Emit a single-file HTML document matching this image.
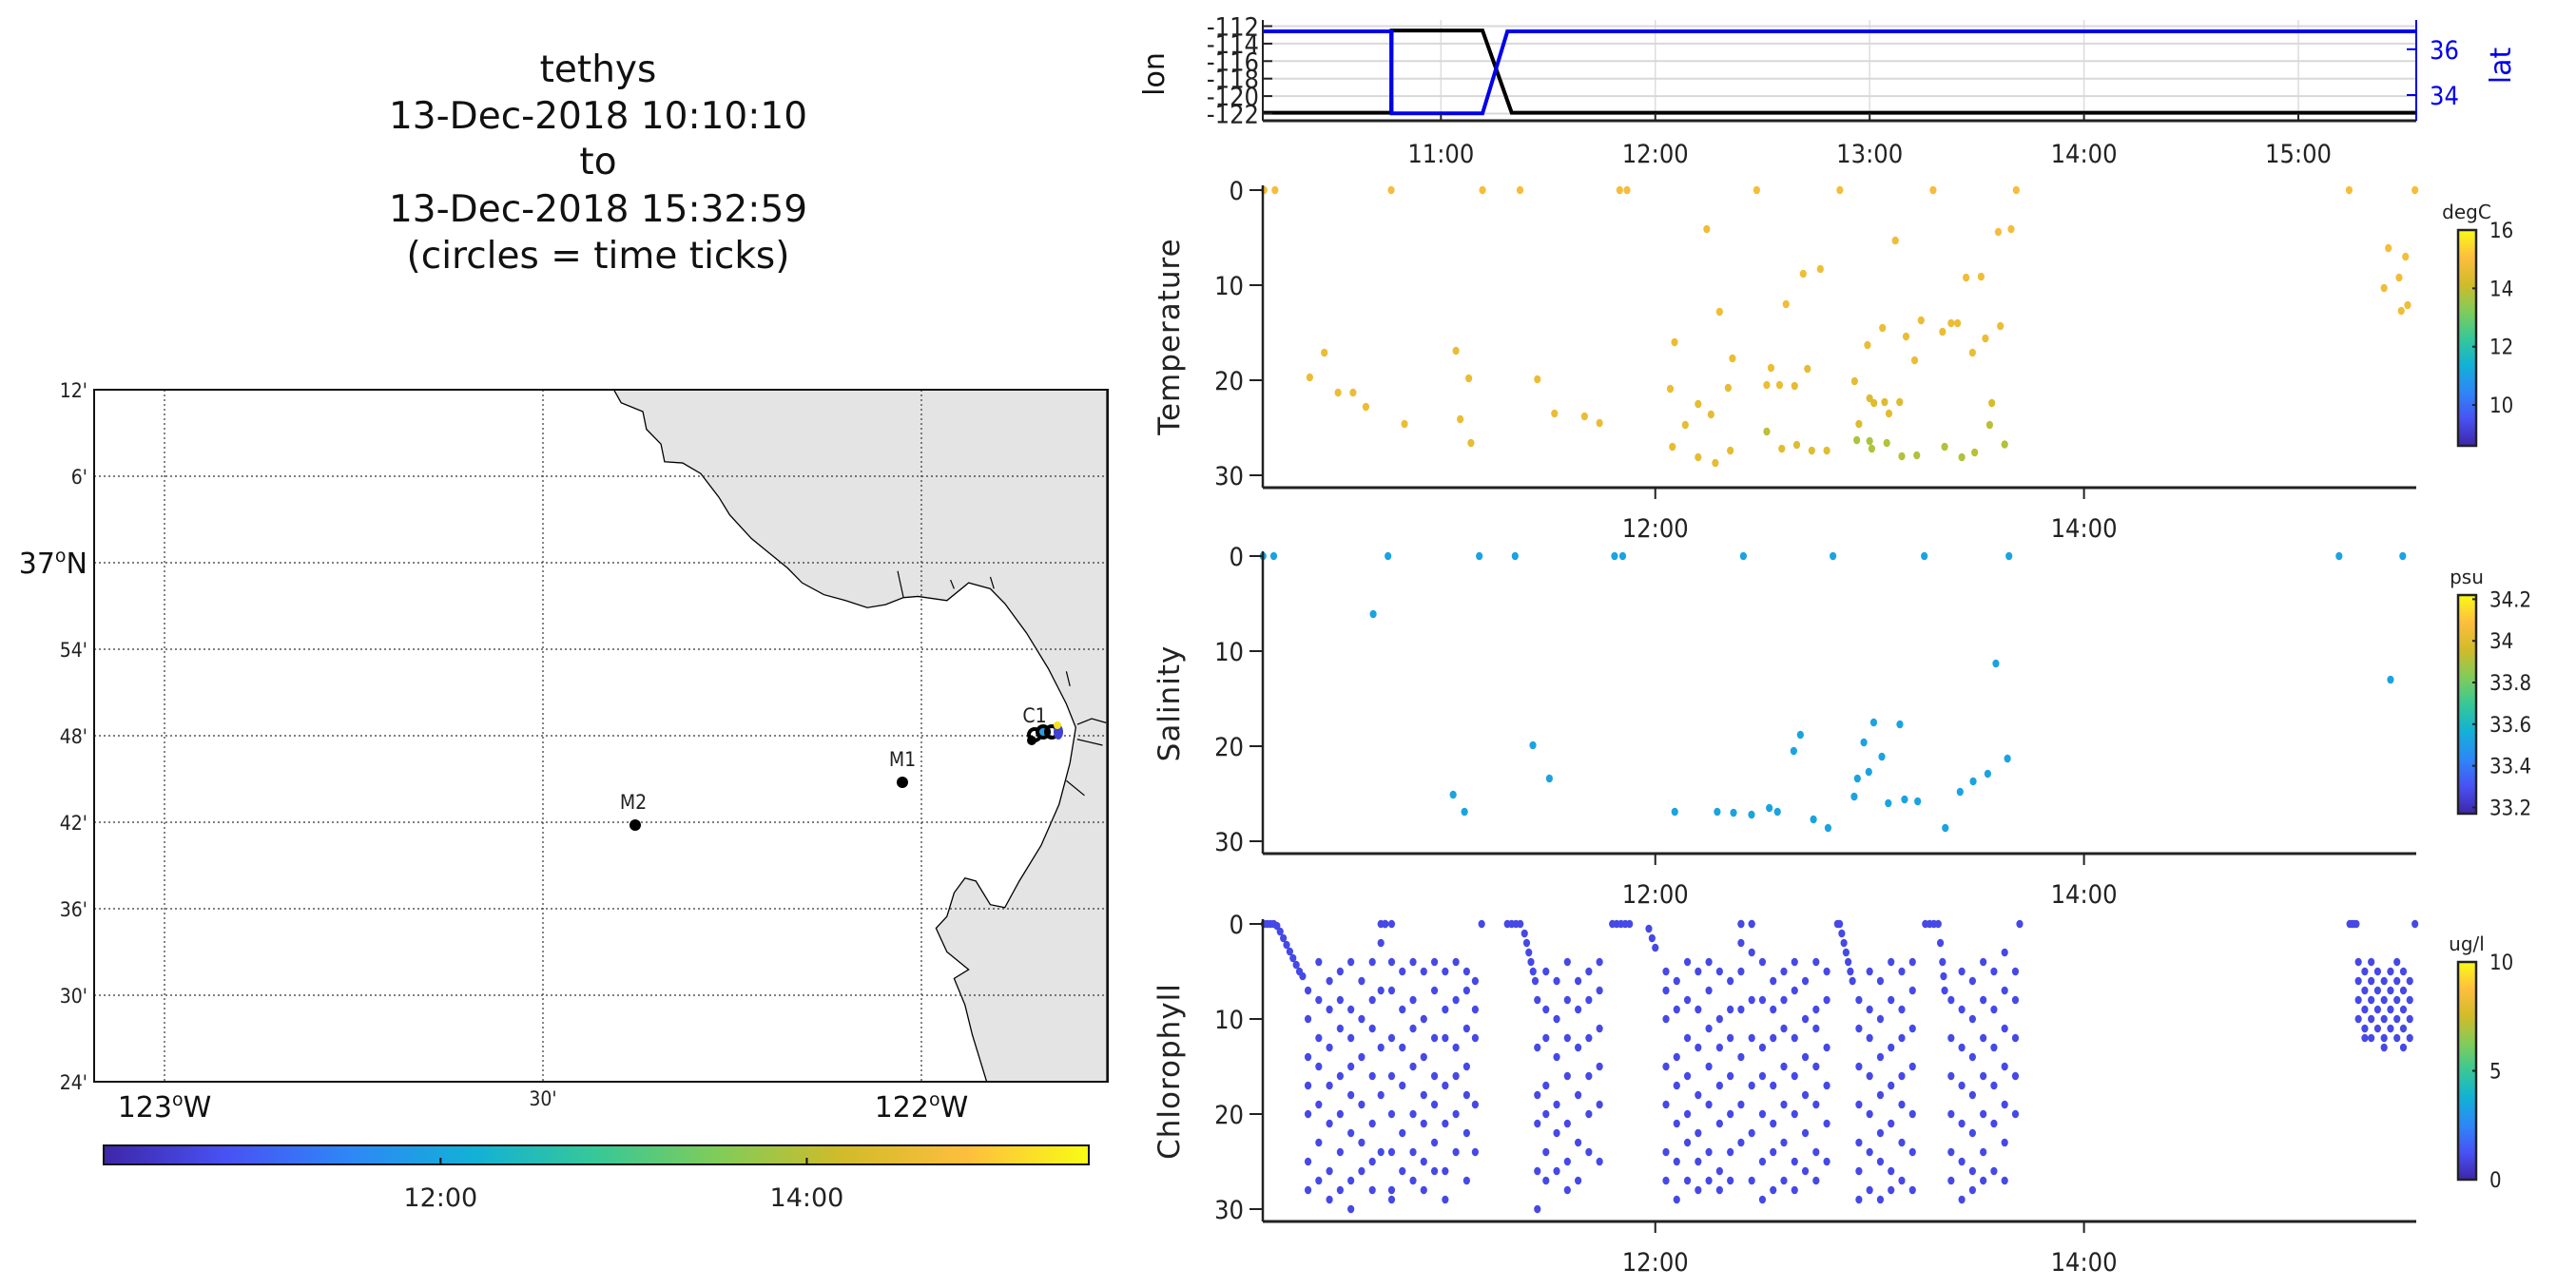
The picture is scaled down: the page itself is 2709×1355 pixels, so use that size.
<!DOCTYPE html>
<html><head><meta charset="utf-8">
<style>
html,body{margin:0;padding:0;background:#fff;}
svg{display:block;}
text{font-family:"DejaVu Sans","Liberation Sans",sans-serif;}
.tk{font-family:"DejaVu Sans Condensed","DejaVu Sans","Liberation Sans Narrow",sans-serif;font-stretch:condensed;font-size:27px;fill:#222;}
.mp{font-family:"DejaVu Sans Condensed","DejaVu Sans",sans-serif;font-stretch:condensed;font-size:21px;fill:#222;}
</style></head>
<body>
<svg id="fig" xmlns="http://www.w3.org/2000/svg" width="2709" height="1355" viewBox="0 0 2709 1355">
<defs>
<linearGradient id="parH" x1="0" x2="1" y1="0" y2="0"></linearGradient>
<linearGradient id="parV" x1="0" x2="0" y1="1" y2="0"></linearGradient>
</defs>
<g font-size="39" text-anchor="middle" fill="#111">
<text x="629" y="86">tethys</text>
<text x="629" y="135">13-Dec-2018 10:10:10</text>
<text x="629" y="183">to</text>
<text x="629" y="233">13-Dec-2018 15:32:59</text>
<text x="629" y="282">(circles = time ticks)</text>
</g>

<!-- MAP -->
<g>
<rect x="99" y="410" width="1066" height="728" fill="#fff"/>
<g transform="translate(6.1,380.2) scale(0.7613,0.6212)">
<path fill="#e4e4e4" stroke="#000" stroke-width="1.3" vector-effect="non-scaling-stroke"
d="M840,48 L850,70 L880,85 L885,115 L905,140 L910,170 L935,172 L960,190 L985,230 L1000,260 L1030,300 L1050,320 L1080,350 L1100,375 L1130,395 L1160,405 L1190,417 L1215,412 L1240,400 L1260,398 L1300,405 L1330,375 L1360,385 L1380,410 L1410,460 L1440,520 L1465,580 L1478,620 L1470,680 L1455,750 L1430,820 L1400,880 L1380,925 L1360,920 L1340,880 L1325,875 L1310,900 L1300,940 L1285,960 L1300,1000 L1330,1030 L1310,1045 L1325,1090 L1335,1140 L1345,1180 L1355,1220 L1521,1220 L1521,48 Z"/>
<path fill="none" stroke="#000" stroke-width="1.2" vector-effect="non-scaling-stroke" d="M1232,355 L1240,400 M1305,370 L1310,385 M1360,365 L1365,385 M1465,525 L1470,550 M1480,615 L1500,605 L1520,612 M1480,640 L1515,650 M1465,710 L1490,735"/>
</g>
<g id="mapgrid" stroke="#333" stroke-width="1.2" stroke-dasharray="2,3"></g>
<rect x="99" y="410" width="1066" height="728" fill="none" stroke="#111" stroke-width="2"/>
<g id="maplabels"></g>
<g><circle cx="668" cy="868" r="6" fill="#000"/><text class="mp" x="666" y="851" text-anchor="middle">M2</text></g>
<g><circle cx="949" cy="823" r="6" fill="#000"/><text class="mp" x="949" y="806" text-anchor="middle">M1</text></g>
<g>
<text class="mp" x="1088" y="760" text-anchor="middle">C1</text>
<circle cx="1088" cy="773" r="6" fill="none" stroke="#000" stroke-width="4"/>
<circle cx="1097" cy="770" r="6" fill="#2a9be0" stroke="#000" stroke-width="4"/>
<circle cx="1106" cy="770" r="6" fill="none" stroke="#000" stroke-width="4"/>
<circle cx="1085" cy="779" r="5" fill="#000"/>
<ellipse cx="1113" cy="770" rx="5" ry="8" fill="#4040d8"/>
<circle cx="1112" cy="763" r="4" fill="#f3e320"/>
</g>
</g>

<!-- time colorbar -->
<g>
<rect x="109" y="1205" width="1036" height="20" fill="url(#parH)" stroke="#111" stroke-width="2"/>
<g id="timecbticks"></g>
</g>

<!-- right panels -->
<g id="lonlat"></g>
<g id="temp"></g>
<g id="sal"></g>
<g id="chl"></g>
</svg>

<script>
// ---------- data ----------
const lonTimes = [10.169, 10.768, 10.770, 11.194, 11.330, 15.55];
const lonValues = [-121.9, -121.9, -112.5, -112.5, -121.9, -121.9];
const latTimes = [10.169, 10.768, 10.770, 11.194, 11.310, 15.55];
const latValues = [36.78, 36.78, 33.2, 33.2, 36.78, 36.78];
const hourTicks = [11, 12, 13, 14, 15];
const hourLabels = ["11:00", "12:00", "13:00", "14:00", "15:00"];
const lonTicks = [-112, -114, -116, -118, -120, -122];
const latTicks = [36, 34];
const depthTicks = [0, 10, 20, 30];
const panelTimeTicks = [12, 14];
const panelTimeLabels = ["12:00", "14:00"];

const tempTimes = [10.175,10.226,10.768,11.194,11.369,11.834,11.868,12.473,12.861,13.296,13.684,15.237,15.544,
10.388,10.456,10.52,10.59,10.65,10.83,11.07,11.09,11.13,11.14,11.45,11.53,11.67,11.74,12.07,12.08,12.09,12.14,12.2,12.2,12.24,12.26,12.28,12.3,12.34,12.35,12.36,12.52,12.52,12.54,12.58,12.59,12.61,12.65,12.66,12.69,12.71,12.73,12.77,12.8,12.93,12.95,12.94,12.99,13.0,13.0,13.01,13.02,13.06,13.07,13.08,13.09,13.12,13.14,13.15,13.17,13.21,13.22,13.24,13.34,13.35,13.38,13.41,13.43,13.45,13.48,13.49,13.52,13.54,13.56,13.57,13.6,13.61,13.63,13.66,15.4,15.42,15.47,15.48,15.5,15.51];
const tempDepths = [0,0,0,0,0,0,0,0,0,0,0,0,0,
19.7,17.1,21.3,21.3,22.8,24.6,16.9,24.1,19.8,26.6,19.9,23.5,23.8,24.5,20.9,27.0,16.0,24.7,22.5,28.1,4.1,23.6,28.7,12.8,20.8,27.4,17.7,20.5,25.4,18.7,20.5,27.2,12.0,20.6,26.8,8.8,18.8,27.4,8.3,27.4,20.1,24.6,26.3,16.3,26.4,21.9,27.2,22.4,14.5,22.3,26.6,23.5,5.3,22.3,28.0,15.4,17.9,27.9,13.7,14.9,27.0,14.0,14.0,28.1,9.2,17.1,27.6,9.1,15.6,24.7,22.4,4.4,14.3,26.75,4.1,10.3,6.1,9.2,12.7,7.0,12.1];
const tempValues = [14.9,14.9,14.9,14.9,14.9,14.9,14.9,14.9,14.9,14.9,14.9,14.9,14.9,
14.7,14.7,14.7,14.7,14.7,14.7,14.7,14.7,14.7,14.6,14.7,14.7,14.7,14.7,14.7,14.6,14.7,14.6,14.6,14.6,14.8,14.6,14.6,14.8,14.6,14.6,14.7,14.7,13.9,14.7,14.7,14.5,14.8,14.6,14.4,14.8,14.6,14.5,14.8,14.5,14.6,14.4,13.7,14.7,13.7,14.4,13.8,14.4,14.7,14.4,13.8,14.5,14.8,14.4,13.8,14.7,14.7,13.8,14.7,14.7,13.8,14.7,14.7,13.8,14.8,14.7,13.9,14.8,14.7,13.9,14.3,14.9,14.7,13.8,14.9,14.8,14.9,14.8,14.8,14.9,14.8];

const salTimes = [10.17,10.22,10.753,11.179,11.346,11.81,11.848,12.411,12.829,13.255,13.65,15.19,15.487,
10.684,11.057,11.11,11.429,11.506,12.091,12.289,12.365,12.449,12.532,12.57,12.646,12.677,12.738,12.806,12.928,12.943,12.973,12.996,13.019,13.057,13.087,13.141,13.163,13.224,13.353,13.422,13.483,13.551,13.589,13.643,15.43];
const salDepths = [0,0,0,0,0,0,0,0,0,0,0,0,0,
6.1,25.1,26.9,19.9,23.4,26.9,26.9,27.0,27.2,26.5,26.9,20.5,18.8,27.7,28.6,25.3,23.4,19.6,22.7,17.5,21.1,26.0,17.7,25.6,25.8,28.6,24.8,23.7,22.9,11.3,21.3,13.0];
const salValue = 33.52;

const chlTimes = [10.175,10.19,10.205,10.22,10.235,10.25,10.265,10.28,10.295,10.31,10.325,10.34,10.355,
10.38,10.43,10.48,10.53,10.58,10.63,10.68,10.72,10.74,10.77,10.82,10.87,10.92,10.97,11.02,11.07,11.12,11.16,11.19,
11.31,11.33,11.35,11.37,11.39,11.40,11.41,11.42,11.43,11.44,
11.45,11.49,11.54,11.59,11.64,11.69,11.74,
11.80,11.82,11.84,11.86,11.88,11.97,11.985,12.0,
12.05,12.10,12.15,12.20,12.25,12.30,12.35,12.40,12.45,12.50,12.55,12.60,12.65,12.70,12.75,12.80,
12.85,12.86,12.87,12.88,12.89,12.90,12.91,12.92,
12.95,13.00,13.05,13.10,13.15,13.20,
13.26,13.28,13.30,13.32,13.33,13.34,13.345,13.35,
13.38,13.43,13.48,13.53,13.58,13.63,13.68,13.70,
15.24,15.25,15.26,15.27,15.544,
15.28,15.31,15.34,15.37,15.40,15.43,15.46,15.49,15.52];
const chlDepths = [[0],[0],[0],[0],[0.2],[0.8],[1.5],[2.2],[2.9],[3.6],[4.3],[5],[5.5],
[7,10,14,17,20,25,28],[4,8,12,15,19,23,27],[6,9,13,17,21,26,29],[5,8,11,16,20,24,28],[4,9,12,15,18,22,27,30],[6,10,14,19,23,26],[4,8,11,16,21,25,28],[0,2,7,13,18,24],[0,0],[0,4,7,12,16,20,24,28,29],[5,9,13,17,22,26],[4,8,11,15,20,24,27],[5,10,14,18,21,25,28],[4,7,12,16,19,23,26],[5,9,12,17,21,26,29],[4,8,13,16,20,24],[5,7,11,15,18,22,27],[6,9,12,19,24],[0],
[0],[0],[0],[0],[1],[2],[3],[4],[5],[6],
[8,13,18,21,26,30],[5,9,12,17,20,24,27],[6,10,14,19,22,26],[4,8,12,16,21,25,28],[6,9,13,18,23,27],[5,8,12,16,20,24],[4,7,11,15,19,25],
[0],[0],[0],[0],[0],[0.5],[1.5],[2.5],
[5,7,10,15,19,24,27],[6,9,14,17,21,25,29],[4,8,12,16,20,23,27],[5,9,13,18,22,25,28],[4,7,11,15,19,24,27],[5,10,13,17,21,26,28],[6,9,12,16,20,24,27],[0,0,2,5,9,14,19,23],[0,0,3,8,12,17,22,27],[4,8,13,16,20,25,29],[6,9,12,17,21,24,28],[5,8,11,15,19,23,27],[4,7,12,16,20,25,28],[6,10,14,18,22,26],[4,9,11,15,19,24,27],[5,8,13,17,21,25],
[0],[0],[1],[2],[3],[4],[5],[6],
[8,11,15,19,23,26,29],[5,9,12,16,20,24,28],[6,10,14,18,22,25,29],[4,8,13,17,21,26,28],[5,9,12,16,19,23,27],[4,7,11,15,20,24,28],
[0],[0],[0],[0],[2],[4],[5.5],[7],
[8,12,16,20,24,27],[5,9,13,17,21,25,29],[6,10,14,18,22,26,28],[4,8,12,16,20,24,27],[5,9,13,17,21,26],[3,7,11,15,19,23,27],[5,8,12,16,20],[0],
[0],[0],[0],[0],[0],
[4,6,8,10],[5,7,9,11,12],[4,6,8,10,12],[5,7,9,11],[6,8,10,12,13],[5,7,9,11],[4,6,8,10,12],[5,7,9,11,13],[6,8,10,12]];
const chlValue = 1.0;

const tempCbTicks = [16, 14, 12, 10];
const salCbTicks = [34.2, 34, 33.8, 33.6, 33.4, 33.2];
const salCbLabels = ["34.2", "34", "33.8", "33.6", "33.4", "33.2"];
const chlCbTicks = [10, 5, 0];
const mapLatTicks = [37.2, 37.1, 37.0, 36.9, 36.8, 36.7, 36.6, 36.5, 36.4];
const mapLatLabels = ["12'", "6'", "37N", "54'", "48'", "42'", "36'", "30'", "24'"];
const mapLonTicks = [-123, -122.5, -122];

// ---------- helpers ----------
const NS = "http://www.w3.org/2000/svg";
function el(tag, attrs, parent, txt) {
  const e = document.createElementNS(NS, tag);
  for (const k in attrs) e.setAttribute(k, attrs[k]);
  if (txt !== undefined) e.textContent = txt;
  parent.appendChild(e);
  return e;
}
const PAR = [[0,[62,38,168]],[0.125,[72,82,244]],[0.25,[46,135,247]],[0.375,[18,177,214]],[0.5,[55,200,151]],[0.625,[129,204,89]],[0.75,[209,187,41]],[0.875,[253,190,62]],[1,[249,251,21]]];
function parula(t) {
  t = Math.max(0, Math.min(1, t));
  for (let i = 1; i < PAR.length; i++) {
    if (t <= PAR[i][0]) {
      const a = PAR[i-1], b = PAR[i], f = (t - a[0]) / (b[0] - a[0]);
      const c = a[1].map((v, j) => Math.round(v + (b[1][j] - v) * f));
      return `rgb(${c[0]},${c[1]},${c[2]})`;
    }
  }
  return "rgb(249,251,21)";
}
["parH", "parV"].forEach(id => {
  const g = document.getElementById(id);
  PAR.forEach(p => el("stop", {offset: p[0], "stop-color": `rgb(${p[1].join(",")})`}, g));
});

// time axis
const T0 = 10.169, T1 = 15.55, X0 = 1328, X1 = 2541;
const xT = t => X0 + (t - T0) / (T1 - T0) * (X1 - X0);

// ---------- map grid & labels ----------
const mx = lon => 173 + (lon + 123) * 796;
const my = lat => 410 + (37.2 - lat) * 910;
const mg = document.getElementById("mapgrid");
mapLonTicks.forEach(l => el("line", {x1: mx(l), x2: mx(l), y1: 410, y2: 1138}, mg));
mapLatTicks.forEach(l => el("line", {x1: 99, x2: 1165, y1: my(l), y2: my(l)}, mg));
const ml = document.getElementById("maplabels");
mapLatTicks.forEach((l, i) => {
  const lab = mapLatLabels[i];
  if (lab === "37N") {
    const t = el("text", {x: 92, y: my(l) + 11, "text-anchor": "end", "font-size": 30, fill: "#111"}, ml);
    
    
    t.innerHTML = '37<tspan dy="-12" font-size="19">o</tspan><tspan dy="12">N</tspan>';
  } else {
    const t = el("text", {x: 92, y: my(l) + 8, "text-anchor": "end", class: "mp"}, ml, lab);
    
    
  }
});
[["123", -123], ["122", -122]].forEach(p => {
  const t = el("text", {x: mx(p[1]), y: 1175, "text-anchor": "middle", "font-size": 30, fill: "#111"}, ml);
  
  
  t.innerHTML = p[0] + '<tspan dy="-12" font-size="19">o</tspan><tspan dy="12">W</tspan>';
});
{
  const t = el("text", {x: mx(-122.5), y: 1163, "text-anchor": "middle", class: "mp"}, ml, "30'");
  
  
}

// time colorbar ticks
{
  const g = document.getElementById("timecbticks");
  const cx = t => 109 + (t - 10.16) / (15.54 - 10.16) * 1036;
  panelTimeTicks.forEach((t, i) => {
    el("line", {x1: cx(t), x2: cx(t), y1: 1218, y2: 1225, stroke: "#111", "stroke-width": 2}, g);
    const lab = el("text", {x: cx(t), y: 1269, "text-anchor": "middle", "font-size": 27, fill: "#222"}, g, panelTimeLabels[i]);
    
    
  });
}

// ---------- lon/lat panel ----------
{
  const g = document.getElementById("lonlat");
  const Y0 = 21, YB = 127;
  const yLon = v => 27.5 + (-112 - v) * 9.2;
  const yLat = v => 51.8 + (36 - v) * 24.1;
  hourTicks.forEach(h => el("line", {x1: xT(h), x2: xT(h), y1: Y0, y2: YB, stroke: "#ddd", "stroke-width": 1.5}, g));
  lonTicks.forEach(v => el("line", {x1: X0, x2: X1, y1: yLon(v), y2: yLon(v), stroke: "#d8d8d8", "stroke-width": 2}, g));
  let d = lonTimes.map((t, i) => (i ? "L" : "M") + xT(t) + "," + yLon(lonValues[i])).join(" ");
  const pl = el("path", {d: d, fill: "none", stroke: "#000", "stroke-width": 4}, g);
  
  
  d = latTimes.map((t, i) => (i ? "L" : "M") + xT(t) + "," + yLat(latValues[i])).join(" ");
  const pb = el("path", {d: d, fill: "none", stroke: "#0000ee", "stroke-width": 4}, g);
  
  
  el("line", {x1: X0, x2: X1, y1: YB, y2: YB, stroke: "#222", "stroke-width": 3}, g);
  el("line", {x1: X0, x2: X0, y1: Y0, y2: YB, stroke: "#222", "stroke-width": 2}, g);
  el("line", {x1: X1, x2: X1, y1: Y0, y2: YB, stroke: "#0000ee", "stroke-width": 2}, g);
  lonTicks.forEach(v => {
    el("line", {x1: X0, x2: X0 + 10, y1: yLon(v), y2: yLon(v), stroke: "#222", "stroke-width": 2}, g);
    const t = el("text", {x: X0 - 4, y: yLon(v) + 10, "text-anchor": "end", class: "tk", fill: "#111"}, g, String(v).replace("-", "-"));
    
    
  });
  latTicks.forEach(v => {
    el("line", {x1: X1 - 10, x2: X1, y1: yLat(v), y2: yLat(v), stroke: "#0000ee", "stroke-width": 2}, g);
    const t = el("text", {x: X1 + 14, y: yLat(v) + 10, class: "tk", style: "fill:#0000ee"}, g, String(v));
    
    
  });
  hourTicks.forEach((h, i) => {
    el("line", {x1: xT(h), x2: xT(h), y1: YB - 8, y2: YB, stroke: "#222", "stroke-width": 2}, g);
    const t = el("text", {x: xT(h), y: 171, "text-anchor": "middle", class: "tk"}, g, hourLabels[i]);
    
    
  });
  const a = el("text", {x: 1224, y: 78, "text-anchor": "middle", "font-size": 30, fill: "#111", transform: "rotate(-90 1224 78)"}, g, "lon");
  
  
  const b = el("text", {x: 2640, y: 69, "text-anchor": "middle", "font-size": 30, fill: "#0000ee", transform: "rotate(-90 2640 69)"}, g, "lat");
  
  
}

// ---------- depth panels ----------
function depthPanel(id, y0, title, titleY, cb, pts) {
  const g = document.getElementById(id);
  const yD = d => y0 + d * 10;
  const YB = y0 + 313;
  pts.forEach(p => {
    const c = el("ellipse", {cx: xT(p[0]), cy: yD(p[1]), rx: 3.6, ry: 4.3, fill: p[2]}, g);
    
    
  });
  el("line", {x1: X0, x2: X1, y1: YB, y2: YB, stroke: "#222", "stroke-width": 3}, g);
  el("line", {x1: X0, x2: X0, y1: y0 - 5, y2: YB, stroke: "#222", "stroke-width": 2.5}, g);
  depthTicks.forEach(d => {
    el("line", {x1: X0 - 14, x2: X0, y1: yD(d), y2: yD(d), stroke: "#222", "stroke-width": 2}, g);
    const t = el("text", {x: X0 - 20, y: yD(d) + 10, "text-anchor": "end", class: "tk"}, g, String(d));
    
    
  });
  panelTimeTicks.forEach((h, i) => {
    el("line", {x1: xT(h), x2: xT(h), y1: YB, y2: YB + 12, stroke: "#222", "stroke-width": 2}, g);
    const t = el("text", {x: xT(h), y: YB + 52, "text-anchor": "middle", class: "tk"}, g, panelTimeLabels[i]);
    
    
  });
  const tt = el("text", {x: 1240, y: titleY, "text-anchor": "middle", "font-size": 31, fill: "#222", "letter-spacing": "1", transform: `rotate(-90 1240 ${titleY})`}, g, title);
  
  
  // colorbar
  const cg = el("g", {}, g);
  
  
  el("rect", {x: 2585, y: cb.top, width: 19, height: cb.bot - cb.top, fill: "url(#parV)", stroke: "#222", "stroke-width": 2.5}, cg);
  const yc = v => cb.bot - (v - cb.min) / (cb.max - cb.min) * (cb.bot - cb.top);
  cb.ticks.forEach((v, i) => {
    el("line", {x1: 2600, x2: 2604, y1: yc(v), y2: yc(v), stroke: "#222", "stroke-width": 2}, cg);
    const t = el("text", {x: 2618, y: yc(v) + 8, "font-size": 22, fill: "#222", class: "tk", style: "font-size:22px"}, cg, cb.labels[i]);
    
    
  });
  const u = el("text", {x: 2594, y: cb.top - 12, "text-anchor": "middle", "font-size": 20, fill: "#222"}, cg, cb.unit);
  
  
  return c => parula((c - cb.min) / (cb.max - cb.min));
}
const tCB = {top: 242, bot: 469, min: 8.6, max: 16, ticks: tempCbTicks, labels: tempCbTicks.map(String), unit: "degC"};
const sCB = {top: 626, bot: 856, min: 33.17, max: 34.22, ticks: salCbTicks, labels: salCbLabels, unit: "psu"};
const cCB = {top: 1012, bot: 1241, min: 0, max: 10, ticks: chlCbTicks, labels: chlCbTicks.map(String), unit: "ug/l"};
const cm = (cb, v) => parula((v - cb.min) / (cb.max - cb.min));

depthPanel("temp", 200, "Temperature", 354, tCB, tempTimes.map((t, i) => [t, tempDepths[i], cm(tCB, tempValues[i])]));
depthPanel("sal", 585, "Salinity", 740, sCB, salTimes.map((t, i) => [t, salDepths[i], cm(sCB, salValue)]));
const chlPts = [];
chlTimes.forEach((t, i) => chlDepths[i].forEach(d => chlPts.push([t, d, cm(cCB, chlValue)])));
depthPanel("chl", 972, "Chlorophyll", 1127, cCB, chlPts);
</script>
</body></html>
